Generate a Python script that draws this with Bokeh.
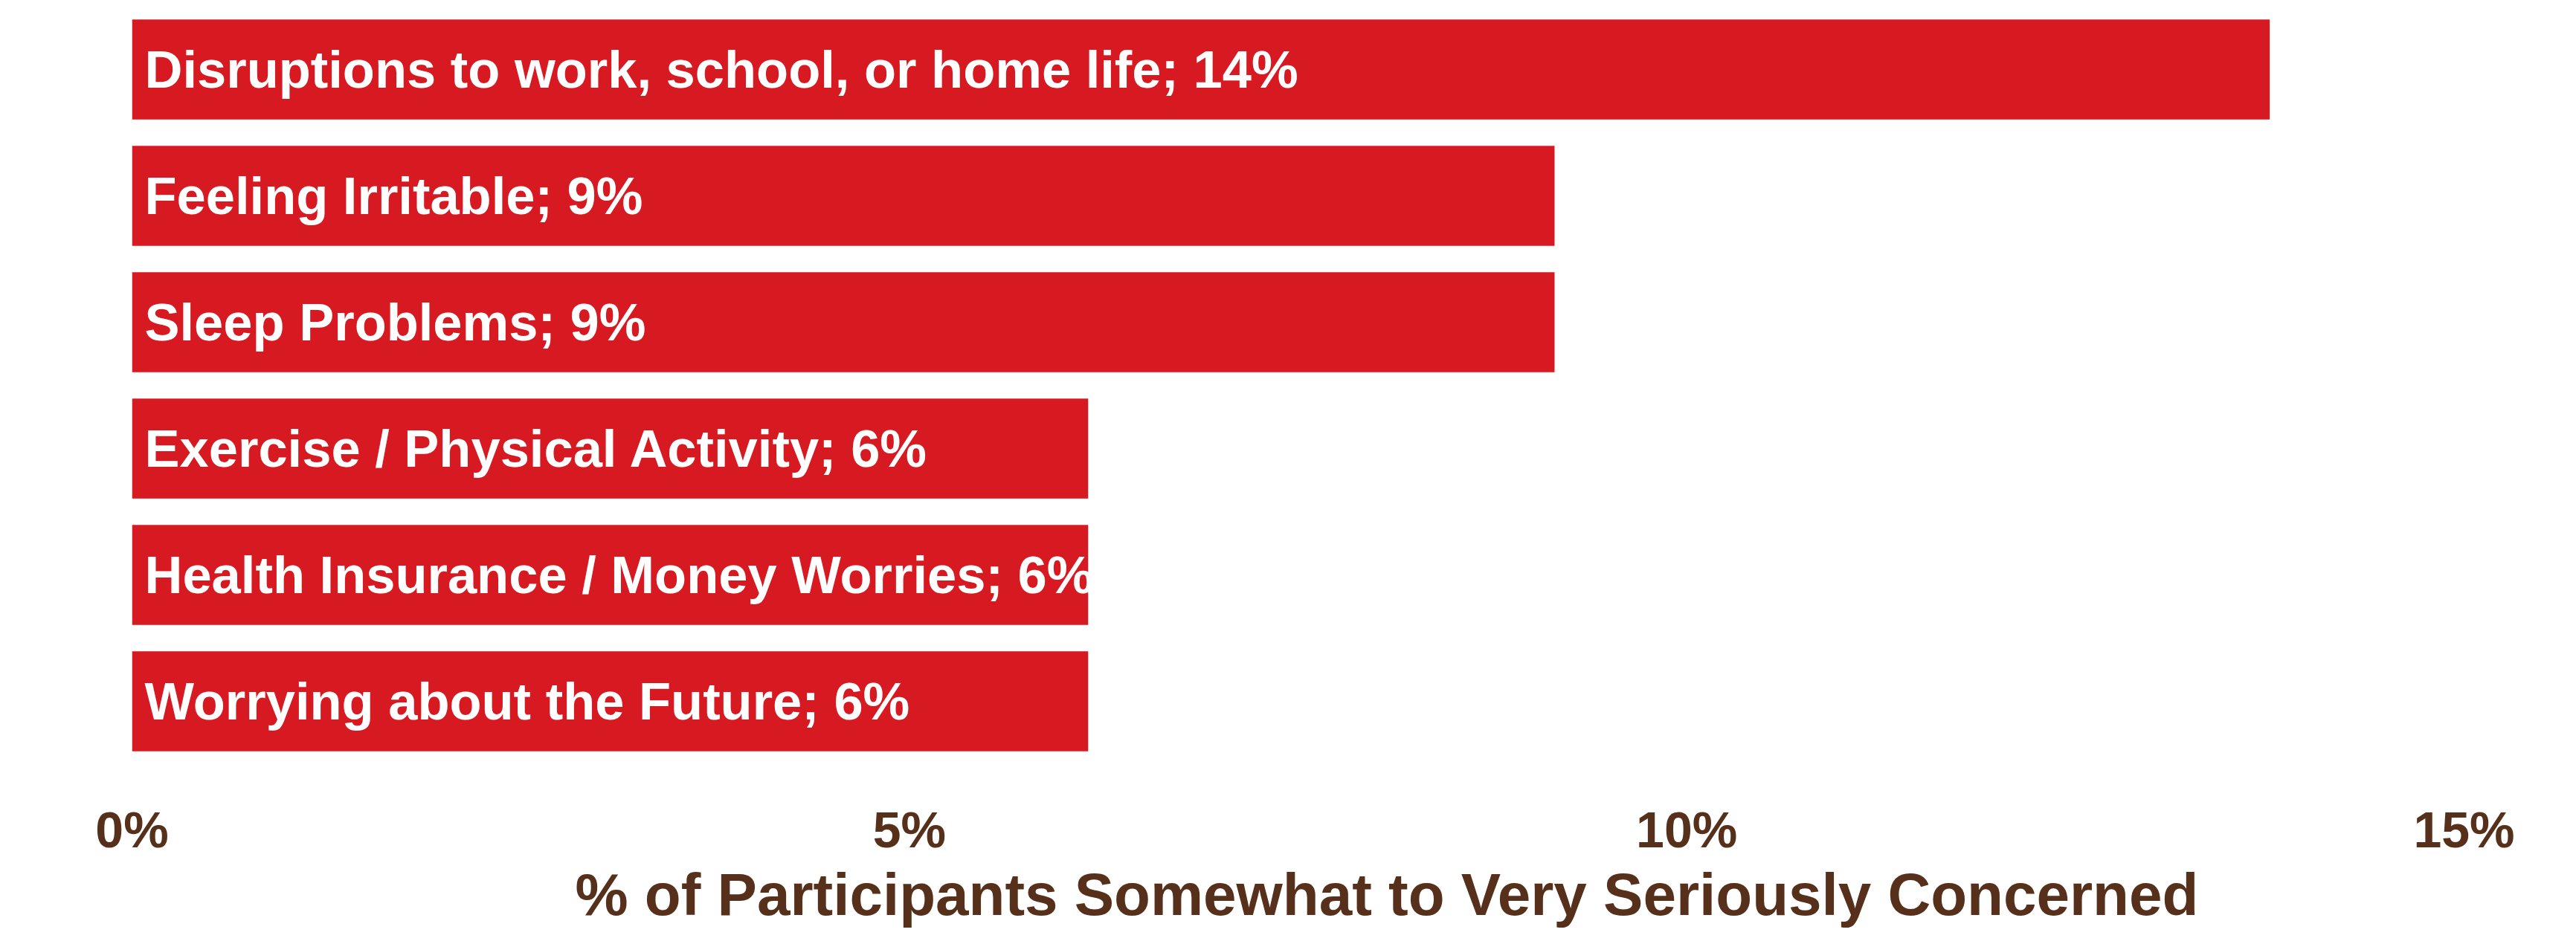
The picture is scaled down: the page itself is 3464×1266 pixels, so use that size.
from bokeh.plotting import figure
from bokeh.models import Range1d, FactorRange, FixedTicker, ColumnDataSource, Title, LinearAxis
from bokeh.core.properties import value
from bokeh.embed import file_html
from bokeh.resources import INLINE

categories = [
    "Disruptions to work, school, or home life",
    "Feeling Irritable",
    "Sleep Problems",
    "Exercise / Physical Activity",
    "Health Insurance / Money Worries",
    "Worrying about the Future",
]
values = [13.75, 9.15, 9.15, 6.15, 6.15, 6.15]
value_labels = ["14%", "9%", "9%", "6%", "6%", "6%"]
tick_values = [0, 5, 10, 15]
tick_labels = ["0%", "5%", "10%", "15%"]
x_title = "% of Participants Somewhat to Very Seriously Concerned"

BAR = "#d71a21"
BROWN = "#56301a"
FONT = "Liberation Sans"

labels = [f"{c}; {v}" for c, v in zip(categories, value_labels)]
src = ColumnDataSource(dict(cat=categories, val=values, lab=labels, zero=[0] * len(values)))

p = figure(
    width=3464, height=1266,
    y_range=FactorRange(*categories[::-1]),
    x_range=Range1d(0, 15),
    output_backend="svg", toolbar_location=None,
    min_border_left=177, min_border_right=151, min_border_top=8, min_border_bottom=238,
)
p.hbar(y="cat", left=0, right="val", height=0.79, source=src, fill_color=BAR, line_color=None)
p.text(x="zero", y="cat", text="lab", source=src, x_offset=17,
       text_color="white", text_font=value(FONT), text_font_style="bold",
       text_font_size="70.5px", text_baseline="middle", text_align="left")

p.yaxis.visible = False
p.xgrid.grid_line_color = None
p.ygrid.grid_line_color = None
p.outline_line_color = None

xa = p.xaxis[0]
xa.ticker = FixedTicker(ticks=tick_values)
xa.major_label_overrides = {t: l for t, l in zip(tick_values, tick_labels)}
xa.axis_line_color = None
xa.major_tick_line_color = None
xa.minor_tick_line_color = None
xa.major_label_text_font = FONT
xa.major_label_text_font_style = "bold"
xa.major_label_text_font_size = "68px"
xa.major_label_text_color = BROWN
xa.major_label_standoff = 43

# empty spacer axis between the tick labels and the axis title
spacer = LinearAxis(ticker=FixedTicker(ticks=[]), major_tick_out=23, major_tick_in=0,
                    minor_tick_out=0, minor_tick_in=0, major_label_standoff=0,
                    axis_line_color=None, major_tick_line_color=None, minor_tick_line_color=None)
p.add_layout(spacer, "below")

# tiny invisible spacer title to push the axis title down a little
gap = Title(text=" ", text_font_size="1px", text_color="white", text_alpha=0, standoff=11)
p.add_layout(gap, "below")

t = Title(text=x_title, align="left", offset=596, text_font=FONT, text_font_style="bold",
          text_font_size="80px", text_color=BROWN, standoff=0)
p.add_layout(t, "below")

open("out.html", "w").write(file_html(p, INLINE))
